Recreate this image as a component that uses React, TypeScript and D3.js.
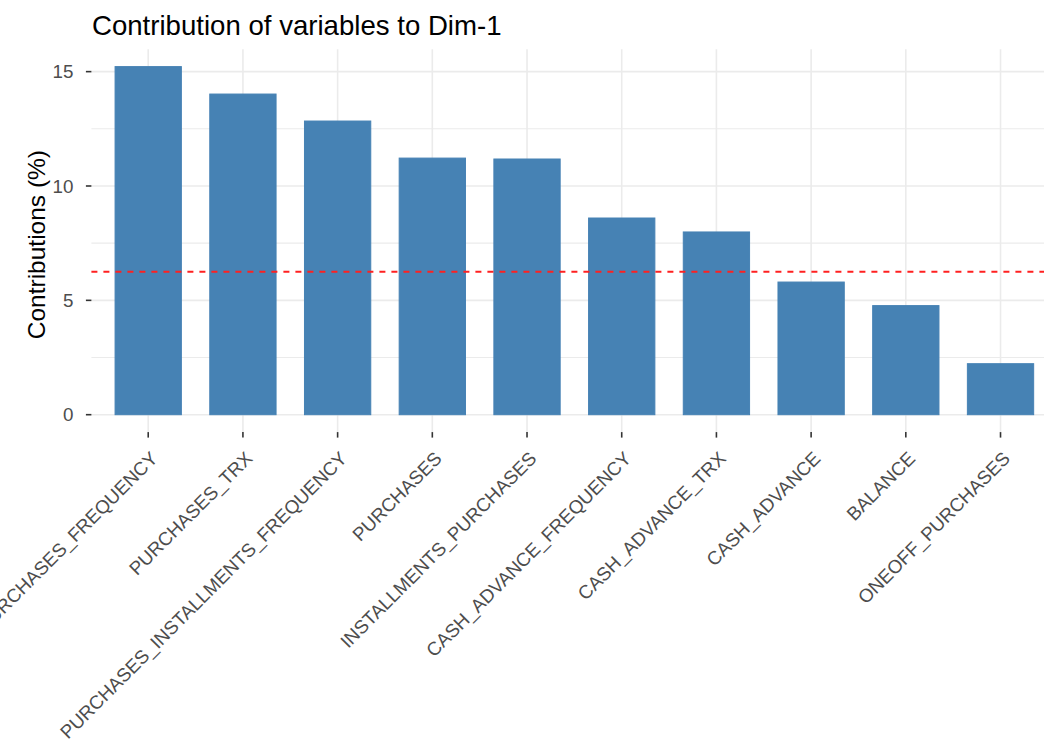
import React from "react";
import * as d3 from "d3";

const categories = [
  "PURCHASES_FREQUENCY",
  "PURCHASES_TRX",
  "PURCHASES_INSTALLMENTS_FREQUENCY",
  "PURCHASES",
  "INSTALLMENTS_PURCHASES",
  "CASH_ADVANCE_FREQUENCY",
  "CASH_ADVANCE_TRX",
  "CASH_ADVANCE",
  "BALANCE",
  "ONEOFF_PURCHASES",
];
const contributions = [15.22, 14.02, 12.84, 11.22, 11.18, 8.6, 7.99, 5.8, 4.77, 2.23];
const referenceLine = 6.25;
const yTicks = [0, 5, 10, 15];
const yMinorTicks = [2.5, 7.5, 12.5];
const title = "Contribution of variables to Dim-1";
const yTitle = "Contributions (%)";

const W = 1044;
const H = 740;
const pLeft = 91.4;
const step = 94.7;
const pRight = pLeft + step * 10.2;
const pTop = 49.2;
const pBottom = 432.1;
const FONT = "'Liberation Sans', Arial, Helvetica, sans-serif";

export default function App() {
  const maxV = d3.max(contributions) as number;
  const ex = maxV * 0.05;
  const y = d3.scaleLinear().domain([0 - ex, maxV + ex]).range([pBottom, pTop]);
  const x = d3
    .scaleBand<string>()
    .domain(categories)
    .range([pLeft, pRight])
    .paddingInner(0.3)
    .paddingOuter(0.25);
  const cx = (c: string) => (x(c) as number) + x.bandwidth() / 2;

  return (
    <svg
      width={W}
      height={H}
      style={{ position: "absolute", left: 0, top: 0, background: "#fff" }}
      fontFamily={FONT}
    >
      <rect x={0} y={0} width={W} height={H} fill="#ffffff" />
      {yMinorTicks.map((t) => (
        <line key={"mn" + t} x1={pLeft} x2={pRight} y1={y(t)} y2={y(t)} stroke="#EBEBEB" strokeWidth={1.1} />
      ))}
      {yTicks.map((t) => (
        <line key={"mj" + t} x1={pLeft} x2={pRight} y1={y(t)} y2={y(t)} stroke="#EBEBEB" strokeWidth={1.6} />
      ))}
      {categories.map((c) => (
        <line key={"vg" + c} x1={cx(c)} x2={cx(c)} y1={pTop} y2={pBottom} stroke="#EBEBEB" strokeWidth={1.6} />
      ))}
      {categories.map((c, i) => (
        <rect
          key={"b" + c}
          x={x(c) as number}
          y={y(contributions[i])}
          width={x.bandwidth()}
          height={y(0) - y(contributions[i])}
          fill="steelblue"
          stroke="steelblue"
          strokeWidth={1}
        />
      ))}
      <line
        x1={pLeft}
        x2={pRight}
        y1={y(referenceLine)}
        y2={y(referenceLine)}
        stroke="#FF2020"
        strokeWidth={2}
        strokeDasharray="6,6"
      />
      {yTicks.map((t) => (
        <g key={"yt" + t}>
          <line x1={pLeft - 5.5} x2={pLeft} y1={y(t)} y2={y(t)} stroke="#333333" strokeWidth={1.6} />
          <text x={73.5} y={y(t)} dy="0.36em" textAnchor="end" fontSize={18.8} fill="#4D4D4D">
            {t}
          </text>
        </g>
      ))}
      {categories.map((c) => (
        <g key={"xt" + c}>
          <line x1={cx(c)} x2={cx(c)} y1={pBottom} y2={pBottom + 5.5} stroke="#333333" strokeWidth={1.6} />
          <text
            transform={`translate(${cx(c) + 1},${pBottom + 18}) rotate(-45)`}
            textAnchor="end"
            dy="0.72em"
            fontSize={18.8}
            fill="#4D4D4D"
          >
            {c}
          </text>
        </g>
      ))}
      <text
        transform={`translate(45,${(pTop + pBottom) / 2 + 4}) rotate(-90)`}
        textAnchor="middle"
        fontSize={24.5}
        fill="#000000"
      >
        {yTitle}
      </text>
      <text x={92} y={35.3} fontSize={27.6} fill="#000000">
        {title}
      </text>
    </svg>
  );
}
